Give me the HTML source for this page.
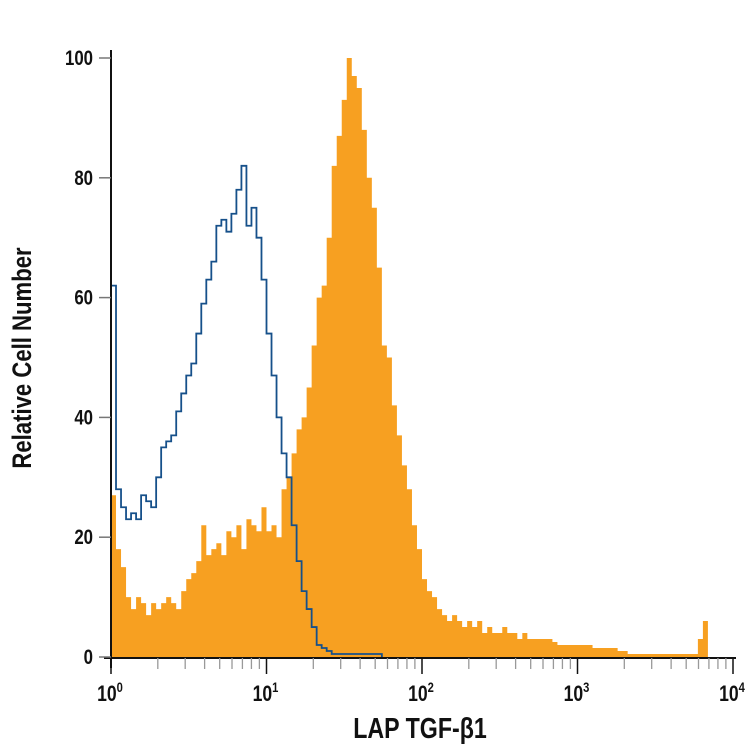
<!DOCTYPE html>
<html><head><meta charset="utf-8"><style>
html,body{margin:0;padding:0;background:#fff}
svg text{font-family:"Liberation Sans Narrow","Liberation Sans",sans-serif;font-weight:bold;fill:#111}
</style></head><body>
<svg id="chart" width="750" height="750" xmlns="http://www.w3.org/2000/svg">
<g id="plot"></g>
<g transform="translate(31,358) rotate(-90) scale(0.82,1)"><text x="0" y="0" text-anchor="middle" font-size="27">Relative Cell Number</text></g>
<g transform="translate(420,738) scale(0.8,1)"><text x="0" y="0" text-anchor="middle" font-size="29">LAP TGF-β1</text></g>
</svg>
<script>
// bins: 31 per decade starting at 10^0
const binsPerDecade = 31;
const orangeValues = [27,18,15,10,8,10,9,7,9,8,9,10,9,8,11,13,14,16,22,17,18,19,17,21,20,22,18,23,22,21,25,21,22,20,28,30,34,38,40,45,52,60,62,70,82,87,93,100,97,95,88,80,75,65,52,50,42,37,32,28,22,18,13,11,10,8,7,6,7,6,5,6,5,6,4,5,4,4,5,4,4,3,4,3,3,3,3,3,2.5,2,2,2,2,2,2,2,1.5,1.5,1.5,1.5,1.5,1,1,0.5,0.5,0.5,0.5,0.5,0.5,0.5,0.5,0.5,0.5,0.5,0.5,0.5,0.5,3,6];
const blueValues = [62,28,25,23,24,23,27,26,25,30,35,36,37,41,44,47,49,54,59,63,66,72,73,71,74,78,82,72,75,70,63,54,47,40,34,30,22,16,11,8,5,2,1.5,1,0.5,0.5,0.5,0.5,0.5,0.5,0.5,0.5,0.5,0.5];
const yTicks = [0,20,40,60,80,100];
const xDecades = [0,1,2,3,4];

const X0=111, PXD=155.5, Y0=657, PY=5.99;
const xs = d => X0 + d*PXD;
const ys = v => Y0 - v*PY;
const NS="http://www.w3.org/2000/svg";
const g=document.getElementById('plot');
function mk(t,a,parent){const e=document.createElementNS(NS,t);for(const k in a)e.setAttribute(k,a[k]);(parent||g).appendChild(e);return e;}

let p=`M${xs(0)},${Y0}`;
orangeValues.forEach((v,i)=>{p+=` L${xs(i/binsPerDecade)},${ys(v)} L${xs((i+1)/binsPerDecade)},${ys(v)}`;});
p+=` L${xs(orangeValues.length/binsPerDecade)},${Y0} Z`;
const o=mk('path',{d:p,fill:'#f7a021',stroke:'none'});



let b=`M${xs(0)},${Y0}`;
blueValues.forEach((v,i)=>{b+=` L${xs(i/binsPerDecade)},${ys(v)} L${xs((i+1)/binsPerDecade)},${ys(v)}`;});
b+=` L${xs(blueValues.length/binsPerDecade)},${Y0}`;
const bl=mk('path',{d:b,fill:'none',stroke:'#16508a','stroke-width':1.8});



const ya=mk('line',{x1:X0,y1:50,x2:X0,y2:668,stroke:'#111','stroke-width':2});


const xa=mk('line',{x1:104,y1:658,x2:736,y2:658,stroke:'#111','stroke-width':2});



yTicks.forEach(v=>{
  const t=mk('line',{x1:X0-12,y1:ys(v),x2:X0,y2:ys(v),stroke:'#777','stroke-width':1.5});
  
  
  const gg=mk('g',{transform:`translate(93,${ys(v)+7}) scale(0.8,1)`});
  const l=mk('text',{x:0,y:0,'text-anchor':'end','font-size':21},gg);
  l.textContent=v;
  
  
});
xDecades.forEach(d=>{
  const t=mk('line',{x1:xs(d),y1:658,x2:xs(d),y2:674,stroke:'#111','stroke-width':1.5});
  
  
  const gg=mk('g',{transform:`translate(${xs(d)-1},701) scale(0.8,1)`});
  const l=mk('text',{x:0,y:0,'text-anchor':'middle','font-size':22},gg);
  l.innerHTML='10<tspan dy="-9" font-size="14">'+d+'</tspan>';
  
  
  if(d<4){for(let m=2;m<10;m++){
    const mt=mk('line',{x1:xs(d+Math.log10(m)),y1:658,x2:xs(d+Math.log10(m)),y2:669,stroke:'#999','stroke-width':1.3});
    
    
  }}
});
</script>
</body></html>
